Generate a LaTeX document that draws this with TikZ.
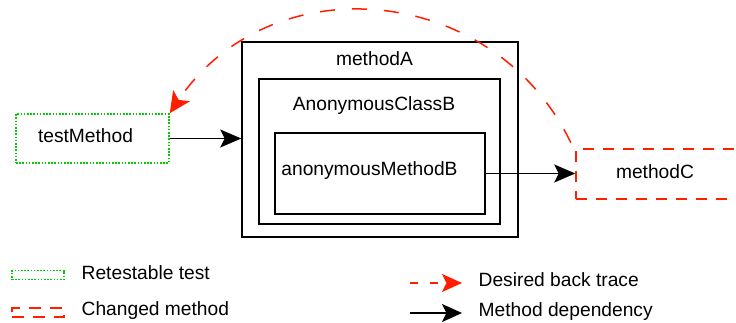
\documentclass[tikz,border=0pt]{standalone}
\usepackage{fontspec}
\setmainfont{Liberation Sans}
\usetikzlibrary{arrows.meta,calc}
\definecolor{dgreen}{RGB}{0,204,0}
\definecolor{dred}{RGB}{255,30,0}
\begin{document}
\begin{tikzpicture}[x=1pt,y=-1pt,
  box/.style={draw=black, line width=1.5pt, inner sep=0pt},
  lbl/.style={inner sep=0pt, font=\fontsize{19.2}{23}\selectfont, anchor=base},
  lgd/.style={inner sep=0pt, font=\fontsize{19.2}{23}\selectfont, anchor=base west},
  dep/.style={draw=black, line width=1.6pt, -{Stealth[length=21pt,width=18pt,inset=4.5pt]}},
  trace/.style={draw=dred, line width=1.5pt, dash pattern=on 15pt off 17pt, -{Stealth[length=21pt,width=20pt,inset=5pt]}},
  retest/.style={draw=dgreen, line width=1.6pt, dash pattern=on 1.6pt off 1.6pt, inner sep=0pt},
  changed/.style={draw=dred, line width=1.5pt, dash pattern=on 11pt off 9pt, inner sep=0pt},
]
\useasboundingbox (0,0) rectangle (736,323);
\clip (0,0) rectangle (736,323);
% boxes
\node[box, minimum width=276pt, minimum height=195pt] (mA) at (380,139.5) {};
\node[box, minimum width=241pt, minimum height=145pt] (aB) at (379.5,151.5) {};
\node[box, minimum width=210pt, minimum height=81pt] (amB) at (380,173.5) {};
\node[retest, minimum width=153pt, minimum height=49pt] (test) at (92.5,138.5) {};
\node[changed, minimum width=184pt, minimum height=50pt] (mC) at (668,174) {};
% labels
\node[lbl] (mAl) at (374.5,65.5) {methodA};
\node[lbl] (aBl) at (374,110.5) {AnonymousClassB};
\node[lbl] (amBl) at (369.5,175.3) {anonymousMethodB};
\node[lbl] (testl) at (85.5,142.8) {testMethod};
\node[lbl] (mCl) at (655,178.5) {methodC};
% connectors
\draw[dep] (test.east) -- (test.east -| mA.west);
\draw[dep] (amB.east) -- (amB.east -| mC.west);
\coordinate (bt) at (570.8,142.6);
\draw[trace] (bt) .. controls (492.8,-18.9) and (269.1,-35.3) .. (test.north east);
% legend
\node[retest, minimum width=52pt, minimum height=9pt] (lg1) at (38,275) {};
\node[lgd] (lt1) at (81.5,279) {Retestable test};
\node[changed, dash pattern=on 12pt off 9pt, minimum width=52pt, minimum height=9pt] (lg2) at (38,312.5) {};
\node[lgd] (lt2) at (81.5,315.3) {Changed method};
\coordinate (la1s) at (410,283);
\coordinate (la1e) at (462,283);
\draw[trace, dash pattern=on 8pt off 12pt, -{Stealth[length=20pt,width=18pt,inset=4.5pt]}] (la1s) -- (la1e);
\node[lgd] (lt3) at (478.5,286) {Desired back trace};
\coordinate (la2s) at (410,313);
\coordinate (la2e) at (462,313);
\draw[dep, -{Stealth[length=20pt,width=18pt,inset=4.5pt]}] (la2s) -- (la2e);
\node[lgd] (lt4) at (478.5,316) {Method dependency};
\end{tikzpicture}
\end{document}
